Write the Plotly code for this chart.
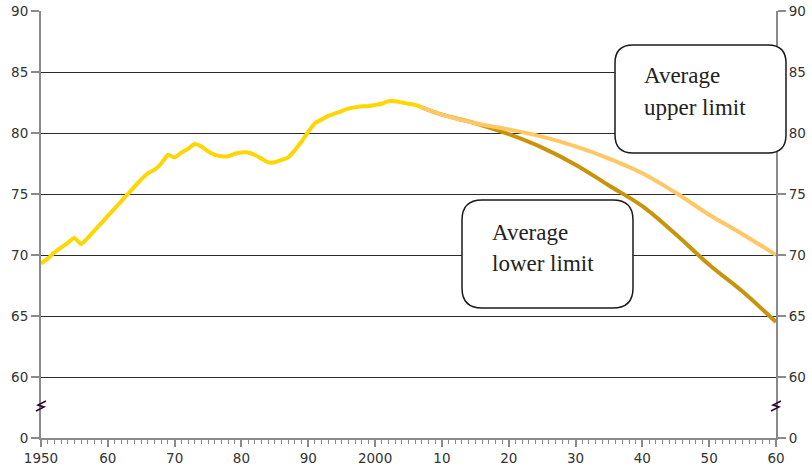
import plotly.graph_objects as go

# ---- data ----
hist_years = list(range(1950, 2008))
hist_values = [69.3, 69.7, 70.2, 70.6, 71.0, 71.4, 70.9, 71.4, 72.0, 72.6,
               73.2, 73.8, 74.4, 75.0, 75.6, 76.2, 76.7, 77.0, 77.5, 78.2,
               78.0, 78.4, 78.7, 79.1, 78.9, 78.5, 78.2, 78.1, 78.1, 78.3,
               78.4, 78.4, 78.2, 77.9, 77.6, 77.6, 77.8, 78.0, 78.6, 79.3,
               80.1, 80.8, 81.1, 81.4, 81.6, 81.8, 82.0, 82.1, 82.2, 82.2,
               82.3, 82.4, 82.6, 82.6, 82.5, 82.4, 82.3, 82.1]

proj_years = [2007, 2010, 2015, 2020, 2025, 2030, 2035, 2040, 2045, 2050, 2055, 2060]
lower_values = [82.1, 81.5, 80.8, 79.9, 78.8, 77.4, 75.7, 74.0, 71.7, 69.2, 67.0, 64.5]
upper_values = [82.1, 81.5, 80.8, 80.3, 79.7, 78.9, 77.9, 76.7, 75.1, 73.3, 71.7, 70.0]

# y axis with a break: the "0" label is drawn at the 55 position
y_tickvals = [55, 60, 65, 70, 75, 80, 85, 90]
y_ticktext = ["0", "60", "65", "70", "75", "80", "85", "90"]
x_tickvals = [1950, 1960, 1970, 1980, 1990, 2000, 2010, 2020, 2030, 2040, 2050, 2060]
x_ticktext = ["1950", "60", "70", "80", "90", "2000", "10", "20", "30", "40", "50", "60"]

box_texts = [["Average", "upper limit"], ["Average", "lower limit"]]

# ---- layout geometry (pixels) ----
W, H = 812, 474
L, R, T, B = 41, 776, 11, 438


def px(x):
    return (x - L) / (R - L)


def py(y):
    return (B - y) / (B - T)


def rounded_rect(x0, y0, x1, y1, r):
    pts = [
        f"M {px(x0 + r)} {py(y0)}",
        f"L {px(x1 - r)} {py(y0)}",
        f"Q {px(x1)} {py(y0)} {px(x1)} {py(y0 + r)}",
        f"L {px(x1)} {py(y1 - r)}",
        f"Q {px(x1)} {py(y1)} {px(x1 - r)} {py(y1)}",
        f"L {px(x0 + r)} {py(y1)}",
        f"Q {px(x0)} {py(y1)} {px(x0)} {py(y1 - r)}",
        f"L {px(x0)} {py(y0 + r)}",
        f"Q {px(x0)} {py(y0)} {px(x0 + r)} {py(y0)}",
        "Z",
    ]
    return " ".join(pts)


def zigzag(xc, yc):
    p = [(xc - 5, yc + 5), (xc + 3, yc + 1), (xc - 3, yc - 1), (xc + 5, yc - 5)]
    s = f"M {px(p[0][0])} {py(p[0][1])}"
    for a, b in p[1:]:
        s += f" L {px(a)} {py(b)}"
    return s


fig = go.Figure()

fig.add_trace(go.Scatter(x=proj_years, y=upper_values, mode="lines",
                         line=dict(color="#FFC865", width=4, shape="spline"),
                         yaxis="y2", showlegend=False, hoverinfo="skip"))
fig.add_trace(go.Scatter(x=proj_years, y=lower_values, mode="lines",
                         line=dict(color="#C9930B", width=4, shape="spline"),
                         showlegend=False, hoverinfo="skip"))
fig.add_trace(go.Scatter(x=hist_years, y=hist_values, mode="lines",
                         line=dict(color="#FFD600", width=4, shape="spline", smoothing=0.6),
                         showlegend=False, hoverinfo="skip"))

tickfont = dict(family="DejaVu Sans", size=13.5, color="#333333")

shapes = []
# rounded annotation boxes
shapes.append(dict(type="path", xref="paper", yref="paper", layer="above",
                   path=rounded_rect(615, 45, 786, 153, 18),
                   fillcolor="white", line=dict(color="#1a1a1a", width=1.5)))
shapes.append(dict(type="path", xref="paper", yref="paper", layer="above",
                   path=rounded_rect(462, 200, 633, 308, 20),
                   fillcolor="white", line=dict(color="#1a1a1a", width=1.5)))
# axis break marks
for xc in (L, R):
    shapes.append(dict(type="path", xref="paper", yref="paper", layer="above",
                       path=zigzag(xc, 406), line=dict(color="#2a0a30", width=1.6)))

annotations = []
for (lx, ys), lines in zip([(642, (76, 107)), (490, (232, 263))], box_texts):
    for yy, txt in zip(ys, lines):
        annotations.append(dict(xref="paper", yref="paper", x=px(lx), y=py(yy),
                                xanchor="left", yanchor="middle", showarrow=False,
                                text=txt,
                                font=dict(family="Liberation Serif", size=23, color="#222")))

fig.update_layout(
    width=W, height=H,
    margin=dict(l=L, r=W - R, t=T, b=H - B, pad=0, autoexpand=False),
    paper_bgcolor="white", plot_bgcolor="white",
    showlegend=False,
    xaxis=dict(range=[1950, 2060], tickvals=x_tickvals, ticktext=x_ticktext,
               showgrid=False, zeroline=False, automargin=False,
               showline=True, linecolor="#8a8a8a", linewidth=2,
               ticks="outside", ticklen=7, tickcolor="#8a8a8a", tickwidth=1.5,
               minor=dict(dtick=1, tick0=1950, ticks="outside", ticklen=4,
                          tickcolor="#8a8a8a", tickwidth=1, showgrid=False),
               tickfont=tickfont),
    yaxis=dict(range=[55, 90], tickvals=y_tickvals, ticktext=y_ticktext,
               showgrid=True, gridcolor="#2b2b2b", gridwidth=1.4, zeroline=False,
               automargin=False,
               showline=True, linecolor="#8a8a8a", linewidth=2,
               ticks="outside", ticklen=8, tickcolor="#8a8a8a", tickwidth=1.5,
               tickfont=tickfont),
    yaxis2=dict(range=[55, 90], tickvals=y_tickvals, ticktext=y_ticktext,
                overlaying="y", side="right", showgrid=False, zeroline=False,
                automargin=False,
                showline=True, linecolor="#8a8a8a", linewidth=2,
                ticks="outside", ticklen=8, tickcolor="#8a8a8a", tickwidth=1.5,
                tickfont=tickfont),
    shapes=shapes,
    annotations=annotations,
)

fig.write_html("out.html")
